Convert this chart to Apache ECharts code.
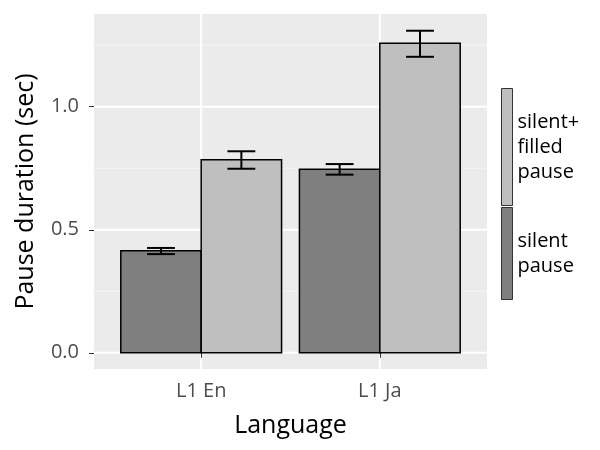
<!DOCTYPE html>
<html>
<head>
<meta charset="utf-8">
<script src="https://cdn.jsdelivr.net/npm/echarts@6/dist/echarts.min.js"></script>
<style>html,body{margin:0;padding:0;background:#fff}#c{width:600px;height:450px}</style>
</head>
<body>
<div id="c"></div>
<script>
// ---- data ----
const categories = ['L1 En', 'L1 Ja'];
const seriesNames = ['silent\npause', 'silent+\nfilled\npause'];
const silentMean = [0.415, 0.746];
const silentLow  = [0.401, 0.724];
const silentHigh = [0.426, 0.767];
const filledMean = [0.785, 1.258];
const filledLow  = [0.748, 1.203];
const filledHigh = [0.819, 1.309];
const yTicks = [0, 0.5, 1.0];
const yMinorGrid = [0.25, 0.75, 1.25];

// ---- build ----
const catPos = categories.map((c, i) => i + 1);
const BAR = 0.45, WHISK = 0.078;
const FONT = 'Open Sans';

function barRender(side) {
  return function (params, api) {
    const x = api.value(0), v = api.value(1);
    const xa = side < 0 ? x - BAR : x, xb = side < 0 ? x : x + BAR;
    const p0 = api.coord([xa, v]), p1 = api.coord([xb, 0]);
    return {
      type: 'rect',
      shape: { x: p0[0], y: p0[1], width: p1[0] - p0[0], height: p1[1] - p0[1] },
      style: { fill: api.visual('color'), stroke: '#000', lineWidth: 1.5 }
    };
  };
}
function errRender(params, api) {
  const x = api.value(0), lo = api.value(1), hi = api.value(2);
  const a = api.coord([x, lo]), b = api.coord([x, hi]);
  const l = api.coord([x - WHISK, 0])[0], r = api.coord([x + WHISK, 0])[0];
  const st = { stroke: '#000', lineWidth: 2 };
  return { type: 'group', children: [
    { type: 'line', shape: { x1: a[0], y1: a[1], x2: b[0], y2: b[1] }, style: st },
    { type: 'line', shape: { x1: l, y1: a[1], x2: r, y2: a[1] }, style: st },
    { type: 'line', shape: { x1: l, y1: b[1], x2: r, y2: b[1] }, style: st }
  ]};
}
function gridRender(params, api) {
  const kind = api.value(0), v = api.value(1);
  const cs = params.coordSys;
  if (kind === 2) {
    const px = api.coord([v, 0])[0];
    return { type: 'line', shape: { x1: px, y1: cs.y, x2: px, y2: cs.y + cs.height },
      style: { stroke: '#fff', lineWidth: 2 } };
  }
  const py = api.coord([1, v])[1];
  return { type: 'line', shape: { x1: cs.x, y1: py, x2: cs.x + cs.width, y2: py },
    style: { stroke: kind === 0 ? '#fff' : '#f5f5f5', lineWidth: kind === 0 ? 2 : 1 } };
}
const gridData = []
  .concat(yTicks.map(v => [0, v]))
  .concat(yMinorGrid.map(v => [1, v]))
  .concat(catPos.map(v => [2, v]));

const chart = echarts.init(document.getElementById('c'));
chart.setOption({
  animation: false,
  grid: { left: 94, right: 113, top: 14, bottom: 81, show: true, backgroundColor: '#EBEBEB', borderWidth: 0 },
  xAxis: {
    type: 'value', min: 0.4, max: 2.6,
    name: 'Language', nameLocation: 'middle', nameGap: 44,
    nameTextStyle: { fontFamily: FONT, fontSize: 25, color: '#000' },
    axisLine: { show: false },
    axisTick: { show: true, customValues: catPos, length: 5, lineStyle: { color: '#333' } },
    axisLabel: { customValues: catPos, formatter: v => categories[Math.round(v) - 1],
      fontFamily: FONT, fontSize: 20, color: '#4D4D4D', margin: 12 },
    splitLine: { show: false }
  },
  yAxis: {
    type: 'value', min: -0.066, max: 1.377,
    name: 'Pause duration (sec)', nameLocation: 'middle', nameGap: 56,
    nameTextStyle: { fontFamily: FONT, fontSize: 25, color: '#000' },
    axisLine: { show: false },
    axisTick: { show: true, customValues: yTicks, length: 5, lineStyle: { color: '#333' } },
    axisLabel: { customValues: yTicks, formatter: v => v.toFixed(1),
      fontFamily: FONT, fontSize: 20, color: '#4D4D4D', margin: 15 },
    splitLine: { show: false }
  },
  legend: [
    { data: [seriesNames[1]], orient: 'vertical', left: 501, top: 88, padding: 0, itemWidth: 11, itemHeight: 117,
      icon: 'rect', itemStyle: { borderColor: '#333', borderWidth: 1 },
      textStyle: { fontFamily: FONT, fontSize: 20, color: '#000', lineHeight: 25 } },
    { data: [seriesNames[0]], orient: 'vertical', left: 501, top: 207, padding: 0, itemWidth: 11, itemHeight: 92,
      icon: 'rect', itemStyle: { borderColor: '#333', borderWidth: 1 },
      textStyle: { fontFamily: FONT, fontSize: 20, color: '#000', lineHeight: 25 } }
  ],
  series: [
    { type: 'custom', name: 'grid', silent: true, z: 0, renderItem: gridRender, data: gridData, clip: false },
    { type: 'custom', name: seriesNames[0], itemStyle: { color: '#7F7F7F' }, z: 2,
      renderItem: barRender(-1), data: catPos.map((x, i) => [x, silentMean[i]]) },
    { type: 'custom', name: seriesNames[1], itemStyle: { color: '#BFBFBF' }, z: 2,
      renderItem: barRender(1), data: catPos.map((x, i) => [x, filledMean[i]]) },
    { type: 'custom', name: 'err', silent: true, z: 3, renderItem: errRender,
      data: catPos.map((x, i) => [x - BAR / 2, silentLow[i], silentHigh[i]])
        .concat(catPos.map((x, i) => [x + BAR / 2, filledLow[i], filledHigh[i]])) }
  ]
});
</script>
</body>
</html>
